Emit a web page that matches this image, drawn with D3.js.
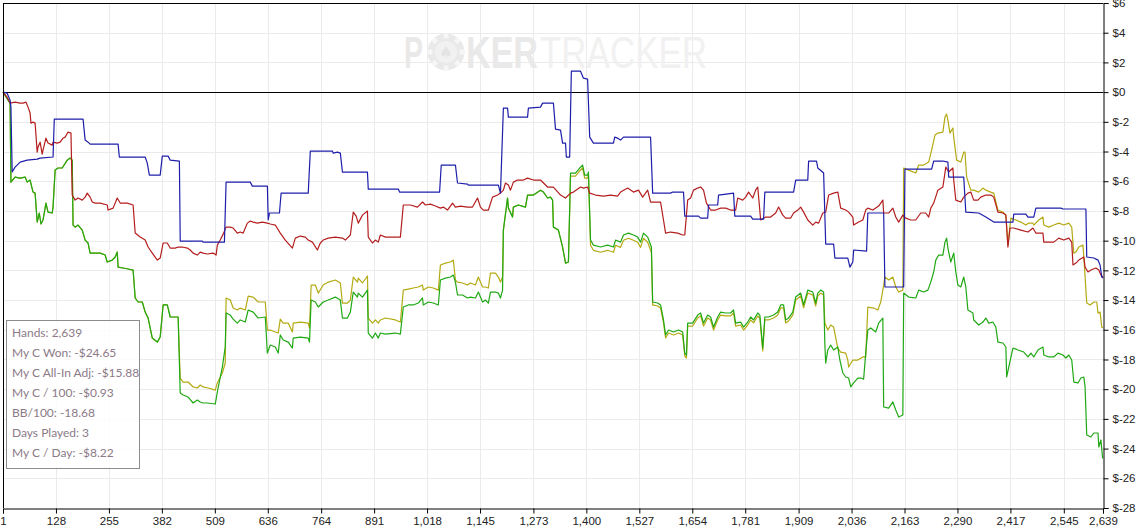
<!DOCTYPE html>
<html>
<head>
<meta charset="utf-8">
<script src="https://cdn.jsdelivr.net/npm/d3@7"></script>
<style>
  html, body { margin: 0; padding: 0; background: #fff; }
  svg { display: block; }
</style>
</head>
<body>
<div id="chart"></div>
<script>
// Hands played / dollar ticks
const handTicks = [1, 128, 255, 382, 509, 636, 764, 891, 1018, 1145, 1273, 1400, 1527, 1654, 1781, 1909, 2036, 2163, 2290, 2417, 2545, 2639];
const dollarTicks = [6, 4, 2, 0, -2, -4, -6, -8, -10, -12, -14, -16, -18, -20, -22, -24, -26, -28];

const statsLines = [
    "Hands: 2,639",
    "My C Won: -$24.65",
    "My C All-In Adj: -$15.88",
    "My C / 100: -$0.93",
    "BB/100: -18.68",
    "Days Played: 3",
    "My C / Day: -$8.22"
];

// [hand, dollars] - net won (green)
const netWon = [
    [1,0],[18,-0.74],[20,-6.06],[30,-5.72],[42,-5.79],[54,-5.72],[59,-6.06],[66,-5.92],[73,-6.73],[78,-6.80],
    [83,-8.75],[88,-8.14],[92,-8.88],[97,-8.61],[104,-7.47],[109,-8.08],[119,-8.14],[121,-7.74],[126,-5.25],[133,-5.11],
    [143,-5.11],[155,-4.58],[162,-4.44],[167,-4.58],[169,-8.95],[174,-9.09],[181,-8.95],[191,-9.29],[198,-9.96],[205,-10.16],
    [210,-10.84],[234,-10.84],[246,-10.97],[251,-11.44],[263,-11.31],[270,-11.10],[275,-10.77],[277,-11.78],[289,-11.84],[301,-11.91],
    [313,-11.98],[318,-13.86],[325,-14.13],[335,-14.13],[342,-14.81],[349,-15.21],[359,-16.56],[371,-16.83],[378,-16.49],[385,-14.33],
    [395,-14.33],[402,-15.14],[421,-15.14],[426,-20.26],[433,-20.39],[445,-20.53],[457,-20.93],[467,-20.73],[474,-20.86],[481,-20.93],
    [491,-20.93],[510,-21.0],[515,-20.19],[527,-18.51],[534,-17.16],[536,-14.87],[546,-15.01],[553,-15.28],[563,-15.55],[570,-15.34],
    [582,-15.48],[589,-14.67],[601,-14.81],[613,-15.21],[630,-15.14],[635,-17.57],[642,-17.03],[654,-17.16],[661,-17.57],[666,-16.35],
    [673,-16.69],[685,-16.83],[695,-17.23],[697,-16.56],[714,-16.49],[733,-16.56],[736,-16.83],[740,-14.0],[750,-14.13],[757,-14.47],
    [769,-14.13],[781,-14.0],[798,-13.80],[810,-14.0],[815,-15.21],[827,-15.21],[834,-14.81],[841,-13.46],[851,-13.80],[853,-13.53],
    [863,-13.80],[875,-13.33],[877,-16.22],[887,-16.56],[894,-16.22],[901,-16.56],[906,-16.22],[918,-16.29],[942,-16.22],[954,-16.29],
    [961,-14.47],[973,-14.33],[985,-14.33],[997,-14.20],[1007,-13.86],[1009,-14.33],[1021,-14.13],[1033,-14.20],[1045,-14.33],[1050,-12.65],
    [1062,-12.52],[1074,-12.45],[1081,-12.32],[1086,-12.79],[1091,-13.66],[1103,-13.66],[1115,-13.86],[1122,-13.80],[1134,-13.86],[1141,-13.46],
    [1151,-14.13],[1158,-14.0],[1165,-14.20],[1170,-13.46],[1182,-13.46],[1189,-13.53],[1194,-13.86],[1199,-13.33],[1201,-9.29],[1211,-7.13],
    [1213,-7.81],[1223,-8.41],[1225,-7.74],[1237,-7.60],[1254,-7.74],[1259,-6.93],[1273,-6.93],[1290,-6.60],[1297,-6.73],[1307,-7.13],
    [1314,-7.07],[1319,-7.27],[1321,-9.09],[1333,-9.29],[1343,-10.43],[1350,-11.51],[1357,-11.44],[1362,-5.45],[1374,-5.45],[1384,-5.11],
    [1391,-4.91],[1396,-5.59],[1403,-5.59],[1405,-5.38],[1410,-9.96],[1417,-10.30],[1434,-10.43],[1451,-10.30],[1465,-10.43],[1470,-9.96],
    [1482,-10.10],[1489,-9.62],[1501,-9.49],[1513,-9.62],[1523,-9.76],[1530,-10.10],[1537,-9.49],[1547,-9.76],[1556,-10.43],[1559,-14.13],
    [1571,-14.20],[1578,-14.33],[1585,-15.34],[1590,-16.35],[1597,-16.02],[1609,-16.15],[1621,-16.02],[1631,-16.15],[1636,-17.57],[1640,-17.70],
    [1643,-15.55],[1655,-15.55],[1667,-15.01],[1674,-14.87],[1681,-15.55],[1691,-15.01],[1698,-15.14],[1705,-15.82],[1715,-15.14],[1722,-14.81],
    [1734,-14.87],[1746,-14.87],[1753,-14.67],[1758,-15.55],[1770,-15.48],[1777,-15.82],[1787,-15.48],[1794,-15.14],[1801,-15.34],[1811,-14.87],
    [1816,-15.01],[1823,-17.23],[1828,-15.14],[1837,-15.14],[1849,-15.01],[1859,-14.81],[1866,-14.33],[1873,-14.33],[1878,-15.34],[1885,-15.21],
    [1895,-14.81],[1902,-13.80],[1914,-13.53],[1921,-14.33],[1931,-13.33],[1943,-13.46],[1950,-14.20],[1955,-13.53],[1962,-13.33],[1969,-13.46],
    [1972,-17.03],[1974,-18.24],[1979,-17.36],[1986,-17.03],[1993,-17.36],[2003,-17.16],[2008,-18.04],[2015,-18.91],[2022,-19.18],[2029,-19.25],
    [2034,-19.85],[2041,-19.58],[2051,-19.25],[2058,-19.25],[2065,-19.32],[2070,-17.57],[2075,-16.02],[2082,-15.88],[2094,-16.15],[2101,-15.55],
    [2111,-15.21],[2113,-21.20],[2125,-21.27],[2135,-20.86],[2142,-21.40],[2149,-21.87],[2159,-21.74],[2161,-13.53],[2173,-13.80],[2190,-13.86],
    [2197,-13.33],[2209,-13.46],[2219,-13.33],[2226,-12.79],[2233,-12.11],[2238,-11.31],[2245,-10.97],[2255,-10.97],[2260,-10.10],[2264,-9.83],
    [2267,-10.50],[2274,-11.44],[2281,-10.84],[2286,-12.11],[2291,-12.99],[2298,-13.12],[2305,-12.45],[2310,-13.12],[2315,-14.67],[2327,-14.87],
    [2329,-15.34],[2341,-15.68],[2351,-15.48],[2358,-15.21],[2365,-15.55],[2375,-15.48],[2382,-15.82],[2387,-16.83],[2399,-16.89],[2406,-17.16],
    [2408,-19.18],[2413,-18.51],[2423,-17.23],[2435,-17.36],[2449,-17.50],[2459,-17.83],[2466,-17.57],[2473,-17.83],[2483,-17.36],[2495,-17.16],
    [2497,-17.70],[2509,-17.83],[2521,-17.83],[2531,-17.57],[2543,-17.70],[2550,-17.90],[2557,-17.70],[2564,-18.04],[2569,-19.52],[2579,-19.58],
    [2586,-19.25],[2593,-19.18],[2596,-19.85],[2600,-23.08],[2610,-23.22],[2617,-22.95],[2627,-22.95],[2629,-23.89],[2634,-23.42],[2638,-24.63],
    [2639,-24.65]
];

// [hand, dollars] - all-in adjusted (gold)
const allInAdj = [
    [1,0],[18,-0.74],[20,-6.06],[30,-5.72],[42,-5.79],[54,-5.72],[59,-6.06],[66,-5.92],[73,-6.73],[78,-6.80],
    [83,-8.75],[88,-8.14],[92,-8.88],[97,-8.61],[104,-7.47],[109,-8.08],[119,-8.14],[121,-7.74],[126,-5.25],[133,-5.11],
    [143,-5.11],[155,-4.58],[162,-4.44],[167,-4.58],[169,-8.95],[174,-9.09],[181,-8.95],[191,-9.29],[198,-9.96],[205,-10.16],
    [210,-10.84],[234,-10.84],[246,-10.97],[251,-11.44],[263,-11.31],[270,-11.10],[275,-10.77],[277,-11.78],[289,-11.84],[301,-11.91],
    [313,-11.98],[318,-13.86],[325,-14.13],[335,-14.13],[342,-14.81],[349,-15.21],[359,-16.56],[371,-16.83],[378,-16.49],[385,-14.33],
    [395,-14.33],[402,-15.14],[421,-15.14],[426,-19.25],[433,-19.52],[445,-19.52],[457,-19.85],[467,-19.92],[474,-19.72],[481,-19.85],
    [493,-19.92],[510,-20.06],[515,-19.58],[527,-18.91],[534,-18.24],[536,-13.86],[546,-14.0],[553,-14.54],[563,-14.67],[570,-14.54],
    [582,-14.67],[589,-13.73],[601,-13.80],[613,-14.13],[630,-14.13],[635,-16.02],[642,-16.02],[654,-16.15],[661,-16.22],[666,-15.28],
    [673,-15.55],[685,-15.55],[695,-16.15],[697,-15.55],[714,-15.48],[733,-15.55],[736,-15.88],[740,-12.99],[750,-12.99],[757,-13.53],
    [769,-12.99],[781,-12.79],[798,-12.65],[810,-12.85],[815,-14.20],[827,-14.20],[834,-14.0],[841,-12.45],[851,-12.79],[853,-12.52],
    [863,-12.85],[875,-12.38],[877,-15.21],[887,-15.55],[894,-15.34],[901,-15.55],[906,-15.34],[918,-15.21],[942,-15.34],[954,-15.48],
    [961,-13.33],[973,-13.26],[985,-13.19],[997,-13.12],[1007,-12.99],[1009,-13.33],[1021,-13.12],[1033,-13.19],[1045,-13.33],[1050,-11.64],
    [1062,-11.51],[1074,-11.44],[1081,-11.31],[1086,-12.65],[1091,-12.79],[1103,-12.85],[1115,-12.99],[1122,-12.85],[1134,-12.99],[1141,-12.45],
    [1151,-13.12],[1158,-13.12],[1165,-13.19],[1170,-12.18],[1182,-12.18],[1189,-12.45],[1194,-12.79],[1199,-12.45],[1201,-9.29],[1211,-7.13],
    [1213,-7.81],[1223,-8.41],[1225,-7.74],[1237,-7.60],[1254,-7.74],[1259,-6.93],[1273,-6.93],[1290,-6.60],[1297,-6.73],[1307,-7.13],
    [1314,-7.07],[1319,-7.27],[1321,-9.09],[1333,-9.29],[1343,-10.43],[1350,-11.51],[1357,-11.44],[1362,-5.65],[1374,-5.65],[1384,-5.31],
    [1391,-5.11],[1396,-5.79],[1403,-5.79],[1405,-5.58],[1410,-10.31],[1417,-10.65],[1434,-10.78],[1451,-10.65],[1465,-10.78],[1470,-10.31],
    [1482,-10.45],[1489,-9.97],[1501,-9.84],[1513,-9.97],[1523,-10.11],[1530,-10.45],[1537,-9.84],[1547,-10.11],[1556,-10.78],[1559,-14.33],
    [1571,-14.40],[1578,-14.53],[1585,-15.54],[1590,-16.55],[1597,-16.22],[1609,-16.35],[1621,-16.22],[1631,-16.35],[1636,-17.77],[1640,-17.90],
    [1643,-15.75],[1655,-15.75],[1667,-15.21],[1674,-15.07],[1681,-15.75],[1691,-15.21],[1698,-15.34],[1705,-16.02],[1715,-15.34],[1722,-15.01],
    [1734,-15.07],[1746,-15.07],[1753,-14.87],[1758,-15.75],[1770,-15.68],[1777,-16.02],[1787,-15.68],[1794,-15.34],[1801,-15.54],[1811,-15.07],
    [1816,-15.21],[1823,-17.43],[1828,-15.34],[1837,-15.34],[1849,-15.21],[1859,-15.01],[1866,-14.53],[1873,-14.53],[1878,-15.54],[1885,-15.41],
    [1895,-15.01],[1902,-14.0],[1914,-13.73],[1921,-14.53],[1931,-13.53],[1943,-13.66],[1950,-14.40],[1955,-13.73],[1962,-13.53],[1969,-13.66],
    [1972,-15.55],[1979,-16.02],[1986,-15.68],[1993,-15.82],[2003,-17.23],[2010,-17.50],[2022,-17.57],[2027,-18.04],[2029,-18.51],[2039,-18.04],
    [2051,-18.04],[2063,-17.83],[2070,-17.83],[2075,-14.47],[2089,-14.54],[2099,-14.67],[2106,-14.13],[2111,-13.33],[2113,-12.99],[2116,-12.45],
    [2125,-12.65],[2135,-12.45],[2142,-13.12],[2149,-13.46],[2159,-13.33],[2161,-5.11],[2173,-5.25],[2190,-5.45],[2197,-4.91],[2209,-4.91],
    [2221,-4.71],[2228,-3.90],[2236,-2.89],[2243,-2.76],[2255,-2.69],[2260,-1.68],[2264,-1.48],[2267,-1.88],[2272,-2.76],[2279,-2.42],
    [2281,-3.03],[2288,-4.58],[2298,-4.71],[2305,-4.04],[2308,-4.04],[2312,-5.72],[2322,-6.60],[2329,-6.60],[2341,-6.73],[2351,-6.46],
    [2358,-6.60],[2370,-6.73],[2377,-6.80],[2387,-7.94],[2399,-8.08],[2406,-8.28],[2411,-10.30],[2418,-8.48],[2430,-8.61],[2442,-8.75],
    [2454,-8.95],[2461,-8.82],[2471,-8.82],[2473,-8.95],[2485,-8.61],[2495,-8.41],[2497,-8.95],[2509,-9.09],[2521,-8.95],[2533,-8.82],
    [2545,-8.95],[2557,-8.82],[2564,-9.09],[2569,-10.84],[2574,-10.77],[2581,-10.43],[2591,-10.30],[2593,-11.10],[2600,-14.20],[2608,-14.33],
    [2617,-14.13],[2624,-14.13],[2627,-14.87],[2632,-14.81],[2636,-15.82],[2639,-15.88]
];

// [hand, dollars] - won at showdown (blue)
const showdownWon = [
    [1,0],[11,-0.07],[18,-0.54],[20,-1.01],[23,-5.38],[30,-5.05],[42,-4.71],[59,-4.58],[83,-4.51],[90,-4.44],
    [121,-4.37],[124,-1.82],[193,-1.82],[198,-3.23],[205,-3.37],[210,-3.50],[277,-3.50],[280,-4.37],[342,-4.37],[347,-4.78],
    [352,-5.59],[378,-5.59],[383,-4.31],[397,-4.31],[402,-4.58],[424,-4.64],[426,-10.03],[479,-10.03],[481,-10.10],[532,-10.10],
    [536,-6.06],[594,-6.06],[599,-6.33],[635,-6.33],[637,-8.61],[640,-8.14],[664,-8.14],[668,-6.80],[733,-6.80],[738,-3.97],
    [791,-3.97],[793,-4.11],[803,-4.04],[810,-4.11],[815,-5.38],[875,-5.38],[877,-6.53],[949,-6.53],[952,-6.73],[1048,-6.73],
    [1052,-4.91],[1086,-4.91],[1091,-6.12],[1115,-6.19],[1117,-6.26],[1189,-6.26],[1194,-6.80],[1201,-1.08],[1211,-1.08],[1213,-1.68],
    [1259,-1.68],[1261,-1.08],[1290,-1.01],[1295,-0.74],[1321,-0.74],[1326,-2.49],[1338,-2.56],[1343,-3.43],[1350,-3.43],[1352,-4.37],
    [1360,-4.37],[1364,1.41],[1386,1.41],[1393,0.94],[1403,0.87],[1408,-3.03],[1417,-3.43],[1465,-3.43],[1468,-3.03],[1475,-3.10],
    [1482,-3.23],[1489,-3.03],[1554,-3.03],[1559,-6.80],[1602,-6.80],[1607,-6.73],[1633,-6.73],[1636,-8.35],[1669,-8.35],[1674,-8.48],
    [1691,-8.48],[1693,-7.60],[1715,-7.60],[1717,-6.93],[1753,-6.80],[1756,-8.35],[1794,-8.35],[1799,-8.55],[1825,-8.55],[1828,-6.73],
    [1897,-6.73],[1902,-5.92],[1931,-5.92],[1933,-4.64],[1952,-4.64],[1955,-5.11],[1969,-5.45],[1974,-10.23],[1993,-10.23],[1996,-11.17],
    [2027,-11.17],[2032,-11.78],[2039,-11.44],[2041,-10.63],[2072,-10.70],[2075,-8.14],[2113,-8.14],[2116,-13.12],[2161,-13.12],[2164,-5.18],
    [2228,-5.18],[2233,-4.64],[2255,-4.64],[2267,-4.71],[2269,-5.72],[2305,-5.72],[2310,-8.08],[2341,-8.14],[2358,-8.41],[2377,-8.75],
    [2423,-8.75],[2425,-8.21],[2454,-8.21],[2459,-8.41],[2473,-8.41],[2478,-7.81],[2538,-7.81],[2543,-7.87],[2598,-7.87],[2600,-11.10],
    [2617,-11.17],[2627,-11.31],[2632,-11.64],[2636,-12.45],[2639,-12.52]
];

// [hand, dollars] - won without showdown (red)
const nonShowdownWon = [
    [1,0],[11,-0.34],[18,-0.74],[30,-0.67],[42,-0.74],[49,-0.74],[56,-0.67],[61,-1.01],[66,-1.41],[68,-2.09],
    [73,-2.02],[78,-2.09],[83,-4.04],[85,-3.70],[90,-3.37],[95,-4.17],[97,-3.90],[104,-3.10],[109,-3.43],[119,-3.57],
    [121,-3.37],[131,-3.43],[138,-3.37],[145,-3.10],[150,-3.03],[157,-2.69],[164,-2.76],[167,-6.93],[174,-7.27],[181,-7.13],
    [191,-7.27],[198,-7.07],[203,-6.80],[210,-7.07],[215,-7.40],[222,-7.47],[234,-7.47],[251,-7.60],[253,-7.94],[265,-7.81],
    [275,-7.13],[282,-7.47],[299,-7.47],[313,-7.60],[318,-9.49],[330,-9.76],[342,-9.96],[349,-10.43],[359,-10.84],[371,-11.31],
    [378,-11.17],[385,-10.16],[395,-10.16],[402,-10.50],[414,-10.50],[421,-10.43],[431,-10.43],[443,-10.50],[450,-10.63],[457,-10.84],
    [467,-10.97],[474,-10.77],[481,-10.84],[491,-10.90],[505,-10.84],[512,-10.97],[515,-10.30],[522,-9.96],[529,-9.56],[536,-9.09],
    [546,-9.09],[553,-9.15],[563,-9.49],[570,-9.42],[577,-9.49],[587,-8.82],[594,-8.68],[601,-8.75],[611,-8.82],[623,-8.75],
    [635,-8.82],[642,-8.88],[654,-8.95],[666,-9.49],[678,-9.96],[695,-10.50],[702,-9.83],[714,-9.69],[726,-9.76],[733,-9.96],
    [743,-10.10],[755,-10.63],[762,-10.16],[769,-9.96],[781,-9.83],[798,-9.76],[815,-9.83],[822,-9.96],[834,-9.62],[841,-8.08],
    [848,-8.35],[853,-8.82],[863,-8.28],[875,-8.01],[877,-9.76],[887,-10.16],[894,-9.96],[901,-10.10],[906,-9.62],[918,-9.76],
    [954,-9.76],[961,-7.60],[978,-7.60],[995,-7.74],[1007,-7.40],[1014,-7.60],[1026,-7.54],[1038,-7.67],[1050,-7.81],[1057,-7.74],
    [1067,-7.94],[1079,-7.47],[1086,-7.74],[1098,-7.67],[1115,-7.74],[1127,-7.74],[1139,-7.13],[1146,-7.74],[1153,-7.94],[1165,-7.94],
    [1175,-7.07],[1187,-6.93],[1194,-6.80],[1201,-6.60],[1206,-6.12],[1213,-6.26],[1218,-6.60],[1225,-6.06],[1235,-5.92],[1249,-5.92],
    [1259,-5.79],[1273,-5.92],[1290,-5.92],[1307,-6.39],[1321,-6.39],[1338,-6.93],[1350,-7.13],[1362,-6.80],[1369,-6.73],[1386,-6.39],
    [1393,-6.46],[1403,-6.39],[1408,-6.80],[1422,-6.93],[1441,-7.0],[1458,-6.93],[1475,-7.0],[1482,-6.73],[1499,-6.46],[1513,-6.73],
    [1525,-6.60],[1535,-7.07],[1547,-6.60],[1554,-7.40],[1578,-7.40],[1585,-8.61],[1590,-9.49],[1602,-9.42],[1619,-9.49],[1631,-9.62],
    [1636,-9.62],[1643,-7.27],[1650,-7.13],[1657,-6.60],[1667,-6.46],[1674,-6.39],[1681,-6.60],[1688,-7.47],[1698,-7.94],[1710,-7.94],
    [1722,-7.81],[1734,-7.81],[1746,-7.94],[1758,-7.94],[1763,-7.13],[1775,-7.27],[1782,-7.07],[1789,-6.73],[1799,-7.13],[1806,-6.60],
    [1811,-6.39],[1818,-8.61],[1830,-8.41],[1842,-8.41],[1854,-8.14],[1861,-7.74],[1871,-8.28],[1878,-8.48],[1890,-8.48],[1897,-8.14],
    [1907,-7.94],[1914,-7.74],[1921,-8.08],[1931,-8.61],[1943,-8.95],[1950,-8.75],[1957,-8.82],[1967,-8.14],[1974,-8.08],[1981,-6.93],
    [1993,-6.80],[2003,-6.73],[2010,-7.81],[2022,-7.94],[2029,-8.08],[2039,-8.41],[2041,-8.95],[2053,-8.75],[2063,-8.61],[2070,-7.94],
    [2075,-7.81],[2087,-7.94],[2101,-7.67],[2111,-7.27],[2113,-8.14],[2125,-8.14],[2135,-7.81],[2142,-8.41],[2149,-8.75],[2159,-8.28],
    [2166,-8.48],[2178,-8.61],[2190,-8.61],[2202,-8.14],[2214,-8.14],[2221,-8.41],[2226,-7.81],[2233,-7.47],[2243,-6.60],[2255,-6.39],
    [2262,-5.05],[2269,-5.38],[2279,-5.11],[2281,-5.92],[2286,-7.27],[2298,-7.40],[2305,-7.07],[2315,-6.80],[2322,-6.73],[2329,-7.27],
    [2339,-7.27],[2346,-7.07],[2358,-6.93],[2370,-6.93],[2377,-7.07],[2387,-8.08],[2399,-8.14],[2406,-8.28],[2411,-10.43],[2416,-9.15],
    [2425,-9.15],[2442,-9.29],[2459,-9.42],[2471,-9.15],[2478,-9.49],[2495,-9.49],[2497,-10.10],[2509,-10.10],[2521,-10.10],[2533,-9.83],
    [2545,-9.96],[2557,-9.83],[2564,-10.10],[2567,-11.64],[2574,-11.51],[2581,-11.31],[2593,-11.10],[2596,-11.78],[2603,-12.11],[2610,-11.98],
    [2622,-11.84],[2629,-11.98],[2634,-12.32],[2639,-12.45]
];

const W = 1143, H = 532;
const plot = { left: 3, right: 1103, top: 3, bottom: 508 };

const drawChart = () => {
    const svg = d3.select("#chart").append("svg")
        .attr("width", W)
        .attr("height", H);

    const x = d3.scaleLinear().domain([1, 2639]).range([plot.left, plot.right]);
    const y = d3.scaleLinear().domain([-28, 6]).range([plot.bottom, plot.top]);

    // grid
    const grid = svg.append("g").attr("stroke", "#ebebeb").attr("stroke-width", 1);
    grid.selectAll("line.v")
        .data(handTicks.slice(1, -1))
        .join("line")
        .attr("x1", d => Math.round(x(d)) + 0.5).attr("x2", d => Math.round(x(d)) + 0.5)
        .attr("y1", plot.top).attr("y2", plot.bottom);
    grid.selectAll("line.h")
        .data(dollarTicks.filter(d => d !== 0 && d !== 6 && d !== -28))
        .join("line")
        .attr("x1", plot.left).attr("x2", plot.right)
        .attr("y1", d => Math.round(y(d)) + 0.5).attr("y2", d => Math.round(y(d)) + 0.5);

    // watermark
    const wm = svg.append("g");
    wm.append("text")
        .attr("x", 404).attr("y", 68)
        .attr("font-family", "Liberation Sans, Arial, sans-serif")
        .attr("font-weight", "bold").attr("font-size", 44)
        .attr("fill", "#e9e9e9")
        .attr("textLength", 19).attr("lengthAdjust", "spacingAndGlyphs")
        .text("P");
    wm.append("circle").attr("cx", 446).attr("cy", 52).attr("r", 18.5).attr("fill", "#e9e9e9");
    d3.range(8).forEach(i => {
        const a = i * Math.PI / 4;
        wm.append("rect")
            .attr("x", -2.5).attr("y", -18.5).attr("width", 5).attr("height", 5)
            .attr("fill", "#f6f6f6")
            .attr("transform", `translate(446,52) rotate(${a * 180 / Math.PI})`);
    });
    wm.append("circle").attr("cx", 446).attr("cy", 52).attr("r", 11).attr("fill", "#f1f1f1");
    wm.append("text")
        .attr("x", 446).attr("y", 58).attr("text-anchor", "middle")
        .attr("font-family", "DejaVu Sans, sans-serif").attr("font-size", 16)
        .attr("fill", "#e4e4e4")
        .text("\u2660");
    wm.append("text")
        .attr("x", 466).attr("y", 68)
        .attr("font-family", "Liberation Sans, Arial, sans-serif")
        .attr("font-weight", "bold").attr("font-size", 44)
        .attr("fill", "#e9e9e9")
        .attr("textLength", 72).attr("lengthAdjust", "spacingAndGlyphs")
        .text("KER");
    wm.append("text")
        .attr("x", 540).attr("y", 68)
        .attr("font-family", "Liberation Sans, Arial, sans-serif")
        .attr("font-size", 44)
        .attr("fill", "#f1f1f1")
        .attr("textLength", 167).attr("lengthAdjust", "spacingAndGlyphs")
        .text("TRACKER");

    // zero line
    svg.append("line")
        .attr("x1", plot.left).attr("x2", plot.right)
        .attr("y1", Math.round(y(0)) + 0.5).attr("y2", Math.round(y(0)) + 0.5)
        .attr("stroke", "#000");

    // series
    const line = d3.line().x(d => x(d[0])).y(d => y(d[1]));
    const series = [
        { data: allInAdj, color: "#b4aa14" },
        { data: netWon, color: "#20a814" },
        { data: nonShowdownWon, color: "#b41e1e" },
        { data: showdownWon, color: "#1e1eaa" }
    ];
    svg.append("g").selectAll("path")
        .data(series)
        .join("path")
        .attr("d", d => line(d.data))
        .attr("fill", "none")
        .attr("stroke", d => d.color)
        .attr("stroke-width", 1.2)
        .attr("stroke-linejoin", "round");

    // frame: top, left
    svg.append("line").attr("x1", plot.left).attr("x2", plot.right)
        .attr("y1", plot.top + 0.5).attr("y2", plot.top + 0.5).attr("stroke", "#000");

    // right axis
    const yAxis = svg.append("g")
        .attr("transform", `translate(${plot.right + 0.5},0)`)
        .call(d3.axisRight(y).tickValues(dollarTicks).tickSize(5).tickPadding(4).tickFormat(d => "$" + d));
    yAxis.select(".domain").attr("stroke", "#000");
    yAxis.selectAll(".tick line").attr("stroke", "#000");
    yAxis.selectAll("text")
        .attr("font-family", "Liberation Sans, Arial, sans-serif")
        .attr("font-size", 11.5)
        .attr("fill", "#222");

    // left border
    svg.append("line").attr("x1", plot.left + 0.5).attr("x2", plot.left + 0.5)
        .attr("y1", plot.top).attr("y2", plot.bottom).attr("stroke", "#000");

    // bottom axis
    const xAxis = svg.append("g")
        .attr("transform", `translate(0,${plot.bottom + 0.5})`)
        .call(d3.axisBottom(x).tickValues(handTicks).tickSize(5).tickPadding(3).tickFormat(d3.format(",")));
    xAxis.select(".domain").attr("stroke", "#000");
    xAxis.selectAll(".tick line").attr("stroke", "#000");
    xAxis.selectAll("text")
        .attr("font-family", "Liberation Sans, Arial, sans-serif")
        .attr("font-size", 11.5)
        .attr("fill", "#222");

    // stats box
    const box = svg.append("g");
    box.append("rect")
        .attr("x", 6.5).attr("y", 320.5)
        .attr("width", 133).attr("height", 148)
        .attr("fill", "#fff").attr("fill-opacity", 0.85)
        .attr("stroke", "#8c8c8c");
    box.selectAll("text")
        .data(statsLines)
        .join("text")
        .attr("x", 12)
        .attr("y", (d, i) => 337 + i * 20)
        .attr("font-family", "Lato, sans-serif")
        .attr("font-size", 12)
        .attr("fill", "#8c7a88")
        .text(d => d);
};

drawChart();
</script>
</body>
</html>
